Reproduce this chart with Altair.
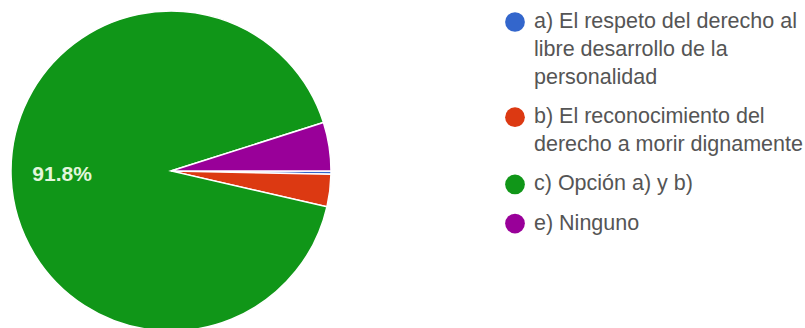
import math
import altair as alt
import pandas as pd

# ---- data ----
categories = ["a", "b", "c", "e"]
values = [0.2, 2, 56, 3]
slice_labels = ["", "", "91.8%", ""]
colors = ["#3366cc", "#dc3912", "#109618", "#990099"]
legend_lines = [
    ["a) El respeto del derecho al", "libre desarrollo de la", "personalidad"],
    ["b) El reconocimiento del", "derecho a morir dignamente"],
    ["c) Opción a) y b)"],
    ["e) Ninguno"],
]

pie_df = pd.DataFrame({
    "cat": categories,
    "value": values,
    "label": slice_labels,
    "idx": list(range(len(categories))),
})

rows = []
line_no = 0
for i, (cat, lines) in enumerate(zip(categories, legend_lines)):
    for j, t in enumerate(lines):
        rows.append({"cat": cat, "text": t, "first": j == 0,
                     "slot": line_no + 0.4 * i})
        line_no += 1
leg_df = pd.DataFrame(rows)

color_scale = alt.Scale(domain=categories, range=colors)
theta_scale = alt.Scale(range=[math.pi / 2, math.pi / 2 + 2 * math.pi])

cx, cy = 171, 171

base = alt.Chart(pie_df).encode(
    theta=alt.Theta("value:Q", stack=True, scale=theta_scale),
    order=alt.Order("idx:Q"),
)

arcs = base.mark_arc(outerRadius=160, stroke="white", strokeWidth=1.5).encode(
    x=alt.value(cx), y=alt.value(cy),
    color=alt.Color("cat:N", scale=color_scale, legend=None),
)

pct = base.mark_text(radius=109, fontSize=21, fontWeight="bold",
                     font="Liberation Sans").encode(
    text="label:N", x=alt.value(cx), y=alt.value(cy),
    color=alt.value("#e3f6dc"),
)

yscale = alt.Scale(domain=[0, 10], range=[22, 22 + 10 * 28])

leg_text = alt.Chart(leg_df).mark_text(
    align="left", baseline="middle", fontSize=21.5, font="Liberation Sans", color="#555555"
).encode(
    x=alt.value(534),
    y=alt.Y("slot:Q", scale=yscale, axis=None),
    text="text:N",
)

leg_dots = alt.Chart(leg_df).transform_filter("datum.first").mark_point(
    shape="circle", filled=True, size=390, opacity=1
).encode(
    x=alt.value(515),
    y=alt.Y("slot:Q", scale=yscale, axis=None),
    color=alt.Color("cat:N", scale=color_scale, legend=None),
)

chart = alt.layer(arcs, pct, leg_dots, leg_text).resolve_scale(
    y="shared"
).properties(
    width=805, height=328, autosize=alt.AutoSizeParams(type="none"), padding=0
).configure_view(stroke=None)

chart.save("out.html", embed_options={"renderer": "svg", "actions": False})
